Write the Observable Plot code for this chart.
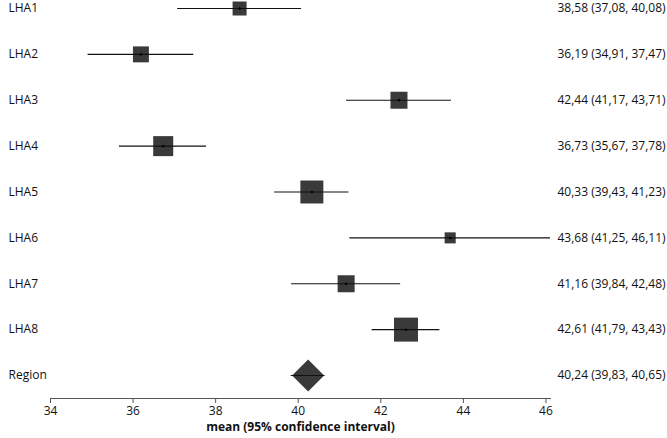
<!DOCTYPE html>
<html>
<head>
<meta charset="utf-8">
<script src="https://cdn.jsdelivr.net/npm/d3@7"></script>
<script src="https://cdn.jsdelivr.net/npm/@observablehq/plot@0.6"></script>
<style>
  html, body { margin: 0; padding: 0; background: #fff; }
  #chart svg { display: block; }
</style>
</head>
<body>
<div id="chart"></div>
<script>
// Data
const labels = ["LHA1", "LHA2", "LHA3", "LHA4", "LHA5", "LHA6", "LHA7", "LHA8", "Region"];
const means  = [38.58, 36.19, 42.44, 36.73, 40.33, 43.68, 41.16, 42.61, 40.24];
const lower  = [37.08, 34.91, 41.17, 35.67, 39.43, 41.25, 39.84, 41.79, 39.83];
const upper  = [40.08, 37.47, 43.71, 37.78, 41.23, 46.11, 42.48, 43.43, 40.65];
// estimated relative weights (%) of the areas (square size)
const weights = [7.4, 9.6, 10.9, 15.1, 19.9, 4.6, 10.9, 21.7];
const xTicks = [34, 36, 38, 40, 42, 44, 46];
const axisTitle = "mean (95% confidence interval)";

const fmt = v => v.toFixed(2).replace(".", ",");
const rows = labels.map((label, i) => ({
  label, mean: means[i], lo: lower[i], hi: upper[i],
  weight: weights[i],
  text: `${fmt(means[i])} (${fmt(lower[i])}, ${fmt(upper[i])})`
}));
const areas = rows.filter(d => d.label !== "Region");
const pooled = rows.filter(d => d.label === "Region");

const font = "'Open Sans', 'Liberation Sans', sans-serif";

const chart = Plot.plot({
  width: 667,
  height: 438,
  marginLeft: 50,
  marginRight: 117,
  marginTop: 0,
  marginBottom: 40,
  style: { fontFamily: font, fontSize: "12px", color: "#111", background: "#fff" },
  x: { domain: [34, d3.max(upper)] },
  y: { type: "point", domain: labels, range: [8, 375], padding: 0, round: false, axis: null },
  r: { type: "sqrt", domain: [0, d3.max(weights)], range: [0, 24 / Math.sqrt(Math.PI)] },
  marks: [
    Plot.frame({ anchor: "bottom", stroke: "#555", strokeWidth: 1 }),
    Plot.axisX({ ticks: xTicks, tickSize: 5, tickPadding: 3, label: null, stroke: "#555", fill: "#111", fontSize: 12, tickFormat: d => String(d) }),
    Plot.dot(areas, { x: "mean", y: "label", r: "weight", symbol: "square", fill: "#3a3a3a", stroke: "none" }),
    Plot.dot(pooled, { x: "mean", y: "label", r: 14.4, symbol: "diamond2", fill: "#3a3a3a", stroke: "none" }),
    Plot.ruleY(rows, { y: "label", x1: "lo", x2: "hi", stroke: "#111", strokeWidth: 1.2 }),
    Plot.dot(areas, { x: "mean", y: "label", r: 1.2, fill: "#000", stroke: "none" }),
    Plot.text(rows, { y: "label", text: "label", frameAnchor: "left", textAnchor: "start", dx: -42, fill: "#111", fontSize: 12 }),
    Plot.text(rows, { y: "label", text: "text", frameAnchor: "right", textAnchor: "start", dx: 7, fill: "#111", fontSize: 12 }),
    Plot.text([axisTitle], { text: d => d, frameAnchor: "bottom", dy: 32, fontWeight: "bold", fill: "#111", fontSize: 12 })
  ]
});
document.getElementById("chart").appendChild(chart);
</script>
</body>
</html>
